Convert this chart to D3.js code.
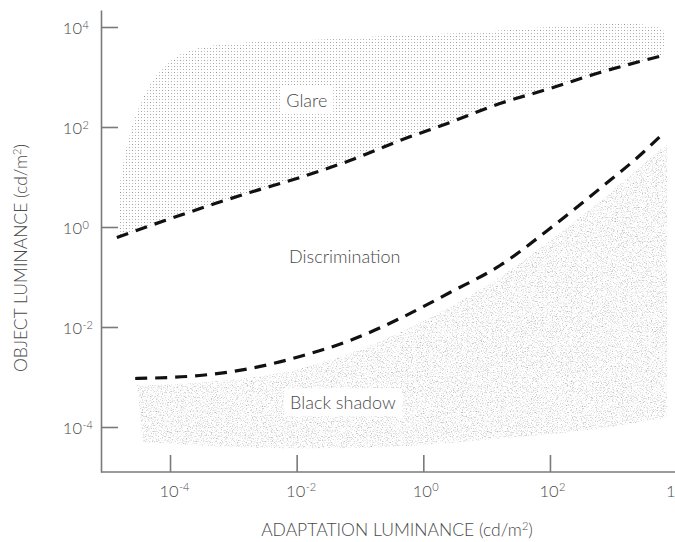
<!DOCTYPE html>
<html>
<head>
<meta charset="utf-8">
<script src="https://cdn.jsdelivr.net/npm/d3@7/dist/d3.min.js"></script>
<style>
  body { margin: 0; background: #fff; }
  text { font-family: Lato, "Open Sans", sans-serif; font-weight: 300; fill: #4a4a4a; }
</style>
</head>
<body>
<div id="chart"></div>
<script>
// all luminance values are log10(cd/m2)
var tickExps = [-4, -2, 0, 2, 4];

// glare zone, upper-left boundary (left to right)
var glareTopX = [-4.82, -4.81, -4.76, -4.66, -4.51, -4.32, -4.08, -3.77, -3.21, -1.95, 0.42, 3.79, 3.79];
var glareTopY = [-0.11, 0.53, 1.13, 1.73, 2.33, 2.83, 3.23, 3.49, 3.65, 3.73, 3.87, 3.93, 3.57];

// upper dashed limit (glare threshold)
var upperX = [-4.84, -4.08, -2.74, -1.95, -1.16, -0.37, 0.42, 1.21, 2.00, 2.79, 3.79];
var upperY = [-0.21, 0.13, 0.69, 0.99, 1.33, 1.73, 2.09, 2.47, 2.77, 3.09, 3.43];

// lower dashed limit (black shadow threshold)
var lowerX = [-4.55, -3.53, -2.74, -1.95, -1.16, -0.37, 0.42, 1.21, 2.00, 2.79, 3.47, 3.77];
var lowerY = [-3.03, -2.97, -2.83, -2.59, -2.27, -1.83, -1.31, -0.77, -0.03, 0.77, 1.49, 1.85];

// black shadow zone: top edge and bottom edge (left to right)
var shadowTopX = [-4.52, -3.53, -1.95, -0.37, 0.42, 1.21, 2.00, 2.79, 3.42, 3.85];
var shadowTopY = [-3.17, -3.11, -2.83, -2.11, -1.60, -1.00, -0.27, 0.52, 1.20, 1.66];
var shadowBotX = [-4.43, -3.53, -1.95, -0.37, 1.21, 2.79, 3.85];
var shadowBotY = [-4.31, -4.37, -4.43, -4.39, -4.23, -4.03, -3.81];

var zoneNames = ["Glare", "Discrimination", "Black shadow"];
var zoneX = [-1.84, -1.24, -1.27];
var zoneY = [2.52, -0.60, -3.52];

var width = 675, height = 542;
var margin = { top: 10, right: 0, bottom: 70, left: 101 };

var x = d3.scaleLog()
  .domain([Math.pow(10, -5.09), 1e4])
  .range([margin.left, 676.6]);
var y = d3.scaleLog()
  .domain([Math.pow(10, -4.9), Math.pow(10, 4.34)])
  .range([height - margin.bottom, margin.top]);

function pts(xs, ys) {
  return xs.map(function(d, i) { return [x(Math.pow(10, d)), y(Math.pow(10, ys[i]))]; });
}

var svg = d3.select("#chart").append("svg")
  .attr("width", width)
  .attr("height", height);

var defs = svg.append("defs");

var dots = defs.append("pattern")
  .attr("id", "dots")
  .attr("patternUnits", "userSpaceOnUse")
  .attr("width", 6).attr("height", 6);
[[0, 0, "#999"], [3, 0, "#c4c4c4"], [0, 3, "#c4c4c4"], [3, 3, "#aaa"]].forEach(function(p) {
  dots.append("rect").attr("x", p[0]).attr("y", p[1]).attr("width", 1).attr("height", 1).attr("fill", p[2]);
});

var noise = defs.append("filter")
  .attr("id", "grain")
  .attr("x", 0).attr("y", 0).attr("width", 1).attr("height", 1)
  .attr("color-interpolation-filters", "sRGB");
noise.append("feTurbulence")
  .attr("type", "fractalNoise")
  .attr("baseFrequency", 0.8)
  .attr("numOctaves", 3)
  .attr("seed", 7)
  .attr("result", "noise");
noise.append("feColorMatrix")
  .attr("in", "noise")
  .attr("type", "matrix")
  .attr("values", "0.7 0 0 0 0.64  0.7 0 0 0 0.64  0.7 0 0 0 0.64  0 0 0 0 1")
  .attr("result", "gray");
noise.append("feComposite")
  .attr("in", "gray")
  .attr("in2", "SourceAlpha")
  .attr("operator", "in");

var curveLine = d3.line().curve(d3.curveMonotoneX);
var smoothLine = d3.line().curve(d3.curveCatmullRom);

// glare zone: curved top edge, then back along the glare threshold
var glareEdge = smoothLine(pts(glareTopX, glareTopY));
var glareBack = curveLine(pts(upperX, upperY).reverse()).replace(/^M/, "L");
svg.append("path")
  .attr("d", glareEdge + glareBack + "Z")
  .attr("fill", "url(#dots)");

// black shadow zone
var shadowEdge = curveLine(pts(shadowTopX, shadowTopY));
var shadowBack = curveLine(pts(shadowBotX, shadowBotY).reverse()).replace(/^M/, "L");
svg.append("path")
  .attr("d", shadowEdge + shadowBack + "Z")
  .attr("fill", "#000")
  .attr("filter", "url(#grain)");

// threshold lines
[[upperX, upperY], [lowerX, lowerY]].forEach(function(s) {
  svg.append("path")
    .attr("d", curveLine(pts(s[0], s[1])))
    .attr("fill", "none")
    .attr("stroke", "#111")
    .attr("stroke-width", 3.2)
    .attr("stroke-dasharray", "12,8");
});

// axes
var xAxis = d3.axisBottom(x).tickValues(tickExps.map(function(e) { return Math.pow(10, e); }))
  .tickSizeInner(-17).tickSizeOuter(0).tickFormat("");
var yAxis = d3.axisLeft(y).tickValues(tickExps.map(function(e) { return Math.pow(10, e); }))
  .tickSizeInner(-17).tickSizeOuter(0).tickFormat("");

var gx = svg.append("g")
  .attr("transform", "translate(0," + (height - margin.bottom) + ")")
  .call(xAxis);
var gy = svg.append("g")
  .attr("transform", "translate(" + margin.left + ",0)")
  .call(yAxis);
[gx, gy].forEach(function(g) {
  g.select(".domain").attr("stroke", "#7a7a7a").attr("stroke-width", 1.6);
  g.selectAll(".tick line").attr("stroke", "#7a7a7a").attr("stroke-width", 1.6);
});
gx.select(".domain").attr("d", "M" + margin.left + ",0H" + width);

// tick labels: "10" plus superscript exponent
tickExps.forEach(function(e) {
  var px = x(Math.pow(10, e));
  svg.append("text")
    .attr("x", px - 1).attr("y", 497)
    .attr("text-anchor", "middle")
    .style("font-size", "16.5px")
    .text("10");
  svg.append("text")
    .attr("x", px + 9).attr("y", 491)
    .style("font-size", "11px")
    .text(e < 0 ? "-" + Math.abs(e) : e);

  var py = y(Math.pow(10, e));
  svg.append("text")
    .attr("x", 82).attr("y", py + 7)
    .attr("text-anchor", "end")
    .style("font-size", "16.5px")
    .text("10");
  svg.append("text")
    .attr("x", 82.5).attr("y", py + 1.5)
    .style("font-size", "11px")
    .text(e < 0 ? "-" + Math.abs(e) : e);
});

// axis titles
var xt = svg.append("text")
  .attr("x", 397).attr("y", 536)
  .attr("text-anchor", "middle")
  .style("font-size", "17.5px");
xt.append("tspan").text("ADAPTATION LUMINANCE (cd/m");
xt.append("tspan").attr("dy", -6).style("font-size", "11px").text("2");
xt.append("tspan").attr("dy", 6).text(")");

var yt = svg.append("text")
  .attr("transform", "translate(27,258) rotate(-90)")
  .attr("text-anchor", "middle")
  .style("font-size", "17.5px");
yt.append("tspan").text("OBJECT LUMINANCE (cd/m");
yt.append("tspan").attr("dy", -6).style("font-size", "11px").text("2");
yt.append("tspan").attr("dy", 6).text(")");

// zone labels with white backing
zoneNames.forEach(function(name, i) {
  var g = svg.append("g")
    .attr("transform", "translate(" + x(Math.pow(10, zoneX[i])) + "," + y(Math.pow(10, zoneY[i])) + ")");
  var t = g.append("text")
    .attr("text-anchor", "middle")
    .attr("dy", "0.35em")
    .style("font-size", "18px")
    .text(name);
  var bb = t.node().getBBox();
  g.insert("rect", "text")
    .attr("x", bb.x - 6).attr("y", bb.y - 3)
    .attr("width", bb.width + 12).attr("height", bb.height + 6)
    .attr("fill", "#fff");
});
</script>
</body>
</html>
